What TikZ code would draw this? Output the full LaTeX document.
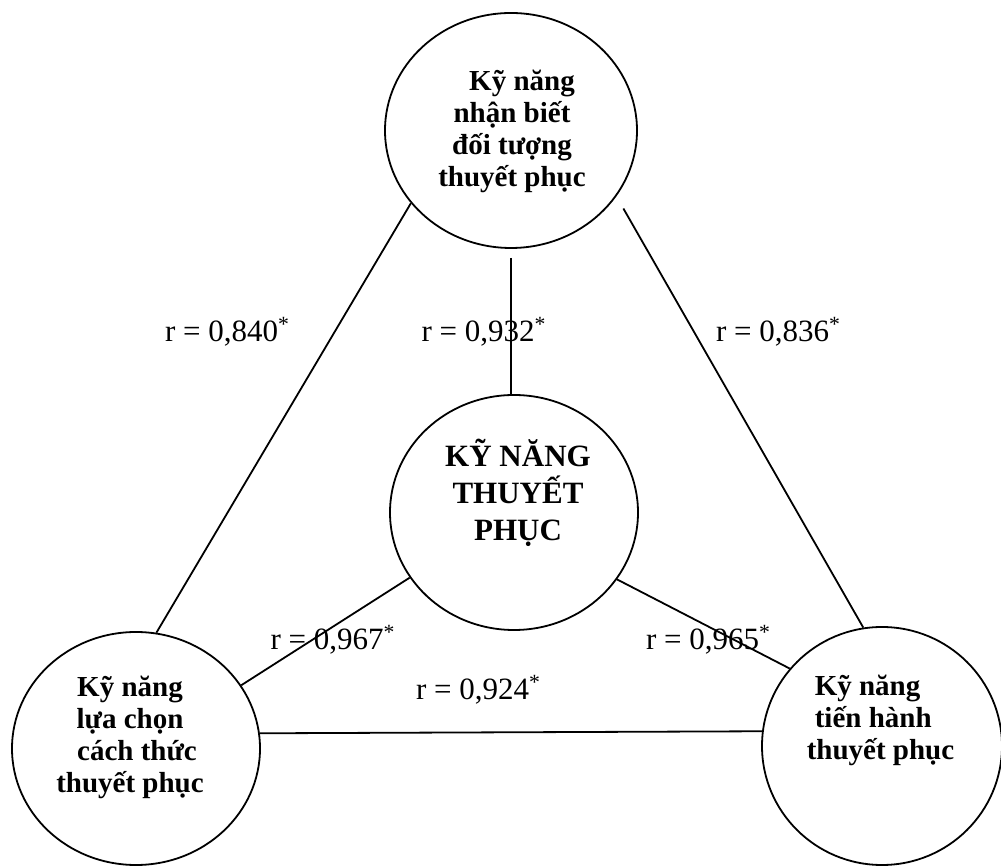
\documentclass[tikz,border=0pt]{standalone}
\usepackage{fontspec}
\setmainfont{Liberation Serif}
\usetikzlibrary{shapes.geometric}

\begin{document}
\begin{tikzpicture}[
  x=0.5pt, y=0.5pt,
  every node/.style={align=center},
  skill/.style={ellipse, draw, line width=0.9pt, minimum width=124pt, minimum height=117pt, inner sep=0pt},
  skilltext/.style={font=\fontsize{14.5}{16}\selectfont\bfseries, inner sep=0pt},
  corr/.style={font=\fontsize{15.5}{18}\selectfont, inner sep=0pt},
  link/.style={line width=0.9pt}
]
\useasboundingbox (0,0) rectangle (1001,867);

% Circles
\node[skill, minimum width=126pt, minimum height=117.5pt] (recog) at (511,736.5) {};
\node[skill, minimum height=117.5pt] (core) at (514,354.5) {};
\node[skill, minimum height=116.5pt] (choose) at (136,118.5) {};
\node[skill, minimum width=120pt, minimum height=119pt] (conduct) at (882,121) {};

% Texts in circles
\node[skilltext] (recogtxt) at (512,736) {\hspace*{10pt}Kỹ năng\\nhận biết\\đối tượng\hspace*{7pt}\\thuyết phục};
\node[skilltext, font=\fontsize{15.5}{18.5}\selectfont\bfseries] (coretxt) at (518,374.5) {KỸ NĂNG\\THUYẾT\\PHỤC};
\node[skilltext] (choosetxt) at (130,130) {Kỹ năng\\lựa chọn\\\hspace*{7pt}cách thức\\thuyết phục};
\node[skilltext, align=left] (conducttxt) at (880.5,147) {\hspace*{4pt}Kỹ năng\\\hspace*{4pt}tiến hành\\thuyết phục};

% Links
\coordinate (gap) at ([yshift=-4.5pt]recog.south);
\draw[link] (recog.216) -- (choose.80);
\draw[link, shorten <=7pt] (recog.-32.7) -- (conduct.99.6);
\draw[link] (gap) -- (gap |- core.north);
\draw[link] (core.212.5) -- (choose.31.8);
\draw[link] (core.-33.2) -- (conduct.140.6);
\draw[link] (choose.7) -- (conduct.173);

% Correlations
\node[corr] (r840) at (227.5,535) {r = 0,840\textsuperscript{*}};
\node[corr] (r932) at (484,535) {r = 0,932\textsuperscript{*}};
\node[corr] (r836) at (778.5,535) {r = 0,836\textsuperscript{*}};
\node[corr] (r967) at (333,227) {r = 0,967\textsuperscript{*}};
\node[corr] (r965) at (708.5,227) {r = 0,965\textsuperscript{*}};
\node[corr] (r924) at (478.5,177) {r = 0,924\textsuperscript{*}};
\end{tikzpicture}
\end{document}
